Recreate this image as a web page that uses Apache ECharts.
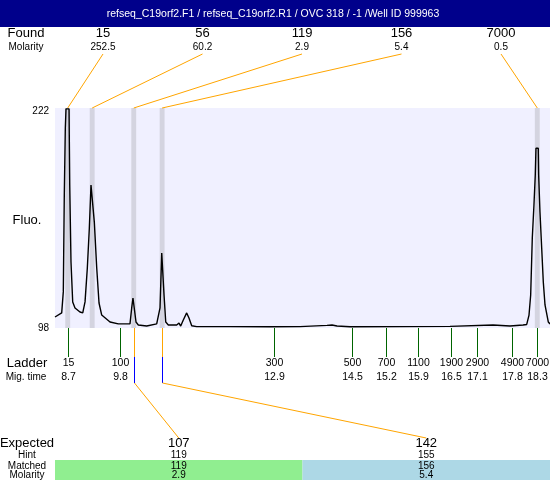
<!DOCTYPE html>
<html><head><meta charset="utf-8">
<script src="https://cdn.jsdelivr.net/npm/echarts@6/dist/echarts.min.js"></script>
<style>html,body{margin:0;padding:0;background:#fff}#c{width:550px;height:480px}</style>
</head><body><div id="c"></div>
<script>
// ---------------- DATA ----------------
const titleText = 'refseq_C19orf2.F1 / refseq_C19orf2.R1 / OVC 318 / -1 /Well ID 999963';
const fluoMin = 98, fluoMax = 222;
const foundSizes = [15, 56, 119, 156, 7000];
const foundMolarity = [252.5, 60.2, 2.9, 5.4, 0.5];
const foundTimes = [8.70, 9.20, 10.05, 10.63, 18.30];
const ladderSizes = [15, 100, 300, 500, 700, 1100, 1900, 2900, 4900, 7000];
const ladderTimes = [8.70, 9.76, 12.92, 14.51, 15.21, 15.87, 16.54, 17.07, 17.79, 18.30];
const expectedSizes = [107, 142];
const hintSizes = [119, 155];
const matchedSizes = [119, 156];
const matchedMolarity = [2.9, 5.4];
const traceTime = [8.440, 8.577, 8.610, 8.630, 8.651, 8.665, 8.727, 8.741, 8.767, 8.802, 8.849, 8.951, 9.007, 9.054, 9.101, 9.142, 9.176, 9.211, 9.244, 9.293, 9.340, 9.395, 9.565, 9.734, 9.973, 10.008, 10.034, 10.061, 10.096, 10.143, 10.315, 10.519, 10.587, 10.622, 10.648, 10.669, 10.704, 10.757, 10.928, 10.975, 11.010, 11.063, 11.132, 11.179, 11.235, 11.337, 12.018, 12.836, 13.449, 14.001, 14.103, 14.206, 14.471, 15.493, 16.516, 17.395, 17.743, 18.009, 18.084, 18.131, 18.165, 18.198, 18.232, 18.259, 18.273, 18.320, 18.328, 18.355, 18.390, 18.423, 18.458, 18.525, 18.561];
const traceFluo = [104.2, 106.5, 118.5, 173.0, 210.7, 221.5, 221.5, 178.6, 135.2, 112.7, 109.3, 107.0, 106.5, 112.7, 131.8, 154.4, 178.6, 178.6, 157.7, 131.8, 112.1, 105.3, 101.4, 100.3, 100.3, 109.3, 114.9, 114.9, 101.4, 99.7, 99.1, 100.3, 109.3, 140.3, 140.3, 116.6, 101.4, 99.7, 99.7, 100.8, 99.1, 102.5, 106.5, 103.6, 99.3, 98.8, 98.8, 98.7, 98.8, 99.5, 99.7, 99.1, 98.7, 98.8, 98.9, 99.7, 99.1, 99.7, 100.0, 105.3, 116.6, 148.7, 167.3, 184.2, 199.3, 199.3, 184.2, 163.4, 143.1, 123.9, 111.0, 101.4, 100.3];

// ---------------- LAYOUT / STYLE ----------------
const FONT = '"Liberation Sans", Arial, sans-serif';
const PLOT_L = 55, PLOT_T = 108, PLOT_H = 220;
const X_MIN = 8.44, X_MAX = 18.56;
const ORANGE = '#FFA500', GREEN = '#006400', BLUE = '#0000FF';
const FOUND_X0 = 103, FOUND_DX = 99.5, FOUND_Y = 33, FOUND_MOL_Y = 47, FOUND_LINE_Y = 54;
const LADDER_Y = 363, MIG_Y = 377, TICK_END = 357, BLUE_END = 383;
const TABLE_L = 55, TABLE_W = 495, EXP_Y = 443, HINT_Y = 455, MATCH_Y = 466, MOL_Y = 475, BAR_T = 460;
const colColors = ['#90EE90', '#ADD8E6'];
const LABEL_CX = 27;
const colW = TABLE_W / expectedSizes.length;
const colCenter = j => TABLE_L + (j + 0.5) * colW;

function txt(text, x, y, size, align) {
  return {type: 'text', style: {text: String(text), x: x, y: y, align: align || 'center', verticalAlign: 'middle', font: size + 'px ' + FONT, fill: '#000'}};
}
function crisp(v) { return Math.round(v) + 0.5; }

function renderFound(params, api) {
  const i = api.value(1);
  const p = api.coord([api.value(0), fluoMax]);
  const lx = FOUND_X0 + i * FOUND_DX;
  return {type: 'group', children: [
    {type: 'line', shape: {x1: lx, y1: FOUND_LINE_Y, x2: p[0], y2: p[1]}, style: {stroke: ORANGE, lineWidth: 1}},
    txt(foundSizes[i], lx, FOUND_Y, 13),
    txt(foundMolarity[i].toFixed(1), lx, FOUND_MOL_Y, 10)
  ]};
}
function renderLadder(params, api) {
  const i = api.value(1);
  const x = crisp(api.coord([api.value(0), 0])[0]);
  const top = params.coordSys.y;
  return {type: 'group', children: [
    {type: 'line', shape: {x1: x, y1: top, x2: x, y2: TICK_END}, style: {stroke: GREEN, lineWidth: 1}},
    txt(ladderSizes[i], x, LADDER_Y, 10.5),
    txt(ladderTimes[i].toFixed(1), x, MIG_Y, 10.5)
  ]};
}
function renderMatched(params, api) {
  const j = api.value(1);
  const x = crisp(api.coord([api.value(0), 0])[0]);
  const top = params.coordSys.y;
  return {type: 'group', children: [
    {type: 'line', shape: {x1: x, y1: top, x2: x, y2: TICK_END}, style: {stroke: ORANGE, lineWidth: 1}},
    {type: 'line', shape: {x1: x, y1: TICK_END, x2: x, y2: BLUE_END}, style: {stroke: BLUE, lineWidth: 1}},
    {type: 'line', shape: {x1: x, y1: BLUE_END, x2: colCenter(j), y2: EXP_Y - 5}, style: {stroke: ORANGE, lineWidth: 1}}
  ]};
}

const graphics = [
  {type: 'rect', shape: {x: 0, y: 0, width: 550, height: 27}, style: {fill: '#00008B'}, z: 0},
  {type: 'text', style: {text: titleText, x: 273, y: 14, align: 'center', verticalAlign: 'middle', font: '10.5px ' + FONT, fill: '#fff'}},
  txt('Found', LABEL_CX - 1, FOUND_Y, 13),
  txt('Molarity', LABEL_CX - 1, FOUND_MOL_Y, 10),
  txt('Fluo.', LABEL_CX, 220, 13),
  txt('Ladder', LABEL_CX, LADDER_Y, 13),
  txt('Mig. time', LABEL_CX - 1, MIG_Y, 10),
  txt('Expected', LABEL_CX, EXP_Y, 13),
  txt('Hint', LABEL_CX, HINT_Y, 10),
  txt('Matched', LABEL_CX, MATCH_Y, 10),
  txt('Molarity', LABEL_CX, MOL_Y, 10)
];
expectedSizes.forEach((e, j) => {
  graphics.push({type: 'rect', shape: {x: TABLE_L + j * colW, y: BAR_T, width: colW, height: 480 - BAR_T}, style: {fill: colColors[j]}, z: -1});
  graphics.push(txt(e, colCenter(j), EXP_Y, 13));
  graphics.push(txt(hintSizes[j], colCenter(j), HINT_Y, 10));
  graphics.push(txt(matchedSizes[j], colCenter(j), MATCH_Y, 10));
  graphics.push(txt(matchedMolarity[j].toFixed(1), colCenter(j), MOL_Y, 10));
});

const chart = echarts.init(document.getElementById('c'), null, {renderer: 'canvas'});
chart.setOption({
  animation: false,
  backgroundColor: '#fff',
  grid: [
    {left: PLOT_L, right: 0, top: PLOT_T, height: PLOT_H, show: true, backgroundColor: '#F0F0FF', borderWidth: 0},
    {left: PLOT_L, right: 0, top: PLOT_T + PLOT_H, height: 60, show: false}
  ],
  xAxis: [
    {type: 'value', gridIndex: 0, min: X_MIN, max: X_MAX, show: false},
    {type: 'value', gridIndex: 1, min: X_MIN, max: X_MAX, show: false}
  ],
  yAxis: [
    {type: 'value', gridIndex: 0, min: fluoMin, max: fluoMax, interval: fluoMax - fluoMin,
     axisLine: {show: false}, axisTick: {show: false}, splitLine: {show: false},
     axisLabel: {show: true, margin: 6, color: '#000', showMinLabel: true, showMaxLabel: true,
       formatter: v => v === fluoMax ? '{top|' + v + '}' : '{bot|' + v + '}',
       rich: {top: {fontSize: 10, fontFamily: FONT, color: '#000', padding: [6, 0, 0, 0]},
              bot: {fontSize: 10, fontFamily: FONT, color: '#000'}}}},
    {type: 'value', gridIndex: 1, min: 0, max: 1, show: false}
  ],
  graphic: graphics,
  series: [
    {type: 'line', xAxisIndex: 0, yAxisIndex: 0, data: traceTime.map((t, k) => [t, traceFluo[k]]),
     showSymbol: false, symbol: 'none', lineStyle: {color: '#000', width: 1.4}, z: 3,
     markArea: {silent: true, itemStyle: {color: '#D4D4E0'},
       data: foundTimes.map(t => [{xAxis: t - 0.05}, {xAxis: t + 0.05}])}},
    {type: 'custom', xAxisIndex: 0, yAxisIndex: 0, clip: false, z: 4,
     data: foundTimes.map((t, i) => [t, i]), renderItem: renderFound},
    {type: 'custom', xAxisIndex: 1, yAxisIndex: 1, clip: false, z: 4,
     data: ladderTimes.map((t, i) => [t, i]), renderItem: renderLadder},
    {type: 'custom', xAxisIndex: 1, yAxisIndex: 1, clip: false, z: 4,
     data: matchedSizes.map((s, j) => [foundTimes[foundSizes.indexOf(s)], j]), renderItem: renderMatched}
  ]
});
</script></body></html>
